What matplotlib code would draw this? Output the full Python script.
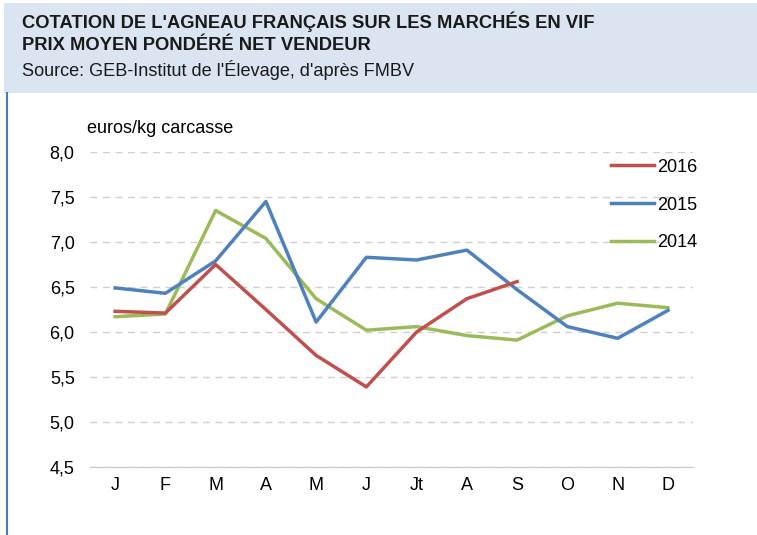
import matplotlib.pyplot as plt
from matplotlib.patches import Rectangle
from matplotlib.lines import Line2D

plt.rcParams["font.family"] = ["Liberation Sans", "DejaVu Sans"]

months = ["J", "F", "M", "A", "M", "J", "Jt", "A", "S", "O", "N", "D"]
prix_2016 = [6.23, 6.21, 6.75, 6.25, 5.74, 5.39, 6.00, 6.37, 6.56]
prix_2015 = [6.49, 6.43, 6.79, 7.45, 6.11, 6.83, 6.80, 6.91, 6.47, 6.06, 5.93, 6.24]
prix_2014 = [6.17, 6.20, 7.35, 7.04, 6.37, 6.02, 6.06, 5.96, 5.91, 6.18, 6.32, 6.27]
yticks = [4.5, 5.0, 5.5, 6.0, 6.5, 7.0, 7.5, 8.0]

fig = plt.figure(figsize=(7.57, 5.35), dpi=100)

# header band + left rule
fig.patches.append(Rectangle((4 / 757, 1 - 93 / 535), 753 / 757, 90 / 535,
                             transform=fig.transFigure, facecolor="#dbe5f1",
                             edgecolor="none", zorder=0))
fig.lines.append(Line2D([7 / 757, 7 / 757], [0, 1 - 93 / 535], transform=fig.transFigure,
                        color="#3d7cc0", lw=1.5))

fig.text(22 / 757, 1 - 22 / 535, "COTATION DE L'AGNEAU FRANÇAIS SUR LES MARCHÉS EN VIF",
         fontsize=13.2, fontweight="bold", va="center", color="#1a1a1a")
fig.text(22 / 757, 1 - 46 / 535, "PRIX MOYEN PONDÉRÉ NET VENDEUR",
         fontsize=13.2, fontweight="bold", va="center", color="#1a1a1a")
fig.text(22 / 757, 1 - 70 / 535, "Source: GEB-Institut de l'Élevage, d'après FMBV",
         fontsize=13.1, va="center", color="#1a1a1a")

ax = fig.add_axes([90 / 757, 1 - 467 / 535, 603 / 757, 315 / 535])
x = list(range(len(months)))
ax.plot(x[:len(prix_2016)], prix_2016, color="#c0504d", lw=2.5, label="2016", zorder=3)
ax.plot(x, prix_2015, color="#4f81bd", lw=2.5, label="2015", zorder=2)
ax.plot(x, prix_2014, color="#9bbb59", lw=2.5, label="2014", zorder=1)

ax.set_xlim(-0.5, 11.5)
ax.set_ylim(4.5, 8.0)
ax.set_yticks(yticks)
ax.set_yticklabels([f"{v:.1f}".replace(".", ",") for v in yticks], fontsize=13)
ax.set_xticks(x)
ax.set_xticklabels(months, fontsize=13)
ax.tick_params(length=0)
ax.tick_params(axis="x", pad=7)
ax.tick_params(axis="y", pad=11)
ax.yaxis.grid(True, color="#d0d0d0", ls=(0, (5, 4)), lw=1)
ax.set_axisbelow(True)
for s in ["top", "right", "left"]:
    ax.spines[s].set_visible(False)
ax.spines["bottom"].set_color("#c8c8c8")
ax.spines["bottom"].set_zorder(0)

ax.text(-0.005, 1.075, "euros/kg carcasse", transform=ax.transAxes, fontsize=13, va="center")

leg = ax.legend(loc="upper right", bbox_to_anchor=(1.035, 1.03), frameon=False,
                fontsize=13, handlelength=2.4, handletextpad=0.2, labelspacing=1.15)

fig.savefig("out.png", dpi=100)
